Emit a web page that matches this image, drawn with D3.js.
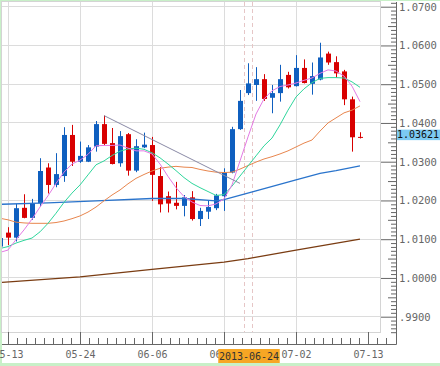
<!DOCTYPE html>
<html><head><meta charset="utf-8">
<script src="https://cdn.jsdelivr.net/npm/d3@7"></script>
<style>html,body{margin:0;padding:0;background:#c8f0c8;}svg{display:block}</style>
</head><body>
<svg id="c" width="440" height="366"></svg>
<script>
// ---- data ----
const dates = ['05-10','05-13','05-14','05-15','05-16','05-17','05-20','05-21','05-22','05-23','05-24',
 '05-27','05-28','05-29','05-30','05-31','06-03','06-04','06-05','06-06','06-07','06-10','06-11','06-12',
 '06-13','06-14','06-17','06-18','06-19','06-20','06-21','06-24','06-25','06-26','06-27','06-28','07-01',
 '07-02','07-03','07-04','07-05','07-08','07-09','07-10','07-11','07-12','07-13'];
const open  = [1.0081,1.0117,1.0104,1.0181,1.0155,1.0193,1.0285,1.0240,1.0263,1.0369,1.0300,1.0300,1.0339,1.0397,1.0348,1.0296,1.0371,1.0277,1.0337,1.0343,1.0263,1.0211,1.0194,1.0186,1.0208,1.0152,1.0171,1.0180,1.0211,1.0272,1.0384,1.0477,1.0498,1.0513,1.0465,1.0477,1.0524,1.0495,1.0542,1.0501,1.0512,1.0579,1.0557,1.0533,1.0461,1.0364];
const high  = [1.0108,1.0131,1.0191,1.0216,1.0204,1.0309,1.0296,1.0322,1.0389,1.0395,1.0352,1.0343,1.0405,1.0419,1.0387,1.0379,1.0374,1.0358,1.0375,1.0364,1.0286,1.0223,1.0248,1.0214,1.0224,1.0181,1.0199,1.0217,1.0283,1.0390,1.0485,1.0554,1.0544,1.0526,1.0498,1.0550,1.0532,1.0575,1.0564,1.0556,1.0607,1.0584,1.0572,1.0537,1.0468,1.0376];
const low   = [1.0075,1.0085,1.0094,1.0154,1.0150,1.0184,1.0218,1.0234,1.0248,1.0289,1.0297,1.0299,1.0326,1.0343,1.0293,1.0287,1.0264,1.0273,1.0335,1.0199,1.0169,1.0169,1.0177,1.0159,1.0148,1.0134,1.0152,1.0175,1.0173,1.0270,1.0382,1.0472,1.0457,1.0457,1.0425,1.0455,1.0489,1.0494,1.0502,1.0473,1.0510,1.0550,1.0517,1.0446,1.0326,1.0360];
const close = [1.0103,1.0104,1.0180,1.0155,1.0193,1.0276,1.0240,1.0268,1.0369,1.0300,1.0315,1.0337,1.0397,1.0346,1.0294,1.0366,1.0277,1.0340,1.0344,1.0266,1.0190,1.0192,1.0186,1.0208,1.0152,1.0173,1.0183,1.0213,1.0272,1.0384,1.0457,1.0502,1.0513,1.0462,1.0477,1.0513,1.0492,1.0542,1.0503,1.0521,1.0569,1.0556,1.0528,1.0461,1.0363,1.03621];
const ma5  = [1.0066,1.0072,1.0099,1.0124,1.0152,1.0183,1.0212,1.0244,1.0273,1.0294,1.0304,1.0319,1.0341,1.0342,1.0342,1.0343,1.0335,1.0328,1.0328,1.0320,1.0294,1.0262,1.0233,1.0210,1.0196,1.0187,1.0186,1.0191,1.0204,1.0240,1.0302,1.0364,1.0423,1.0462,1.0483,1.0494,1.0498,1.0503,1.0510,1.0516,1.0528,1.0537,1.0534,1.0521,1.0495,1.0455];
const ma10 = [1.0076,1.0081,1.0090,1.0097,1.0103,1.0119,1.0141,1.0167,1.0195,1.0219,1.0240,1.0266,1.0292,1.0302,1.0316,1.0327,1.0333,1.0335,1.0332,1.0323,1.0310,1.0294,1.0277,1.0259,1.0244,1.0233,1.0223,1.0213,1.0215,1.0237,1.0263,1.0289,1.0315,1.0341,1.0361,1.0395,1.0433,1.0467,1.0488,1.0504,1.0515,1.0517,1.0517,1.0516,1.0506,1.0492];
const ma25 = [1.0154,1.0150,1.0144,1.0142,1.0141,1.0141,1.0141,1.0143,1.0147,1.0153,1.0160,1.0170,1.0183,1.0199,1.0214,1.0227,1.0243,1.0257,1.0267,1.0276,1.0283,1.0286,1.0288,1.0286,1.0285,1.0280,1.0276,1.0273,1.0272,1.0273,1.0281,1.0290,1.0299,1.0307,1.0313,1.0320,1.0328,1.0338,1.0348,1.0356,1.0379,1.0400,1.0413,1.0426,1.0433,1.0444];
const ma75Dates = ['05-10','05-20','05-28','06-06','06-12','06-18','06-19','06-25','07-02','07-05','07-09','07-12'];
const ma75 = [1.0190,1.0194,1.0199,1.0205,1.0205,1.0199,1.0202,1.0225,1.0253,1.0270,1.0277,1.0289];
const ma200Dates = ['05-10','05-24','06-06','06-19','06-24','07-02','07-12'];
const ma200 = [0.9988,1.0003,1.0022,1.0041,1.0050,1.0072,1.0100];
const trendDates = ['05-29','06-21'];
const trendValues = [1.0419,1.0244];
const yTicks = [1.07,1.06,1.05,1.04,1.03,1.02,1.01,1.00,0.99];
const yTickLabels = ['1.0700','1.0600','1.0500','1.0400','1.0300','1.0200','1.0100','1.0000','.9900'];
const xTickDates = ['05-13','05-24','06-06','06-19','07-02','07-13'];
const cursorDate = '06-24', cursorLabel = '2013-06-24';
const lastPrice = 1.03621, lastLabel = '1.03621';

// ---- drawing ----
const FONT = '"DejaVu Sans Mono", monospace';
const svg = d3.select('#c');
const P = {l:2, t:2, r:380, b:332};
svg.append('rect').attr('x',2).attr('y',1).attr('width',438).attr('height',362).attr('fill','#fff');

const x = d3.scalePoint().domain(dates).range([0, 368]);
const xi = d3.scaleLinear().domain([0, dates.length-1]).range([0, 368]);
const y = d3.scaleLinear().domain([0.99, 1.07]).range([316.7, 6.7]);

svg.append('defs').append('clipPath').attr('id','clip')
  .append('rect').attr('x',P.l).attr('y',P.t).attr('width',P.r-P.l).attr('height',P.b-P.t);

// grid
const grid = svg.append('g').attr('stroke','#dcdcdc').attr('stroke-width',1);
grid.selectAll('line.h').data(yTicks).join('line').attr('class','h')
  .attr('x1',P.l).attr('x2',P.r).attr('y1',d=>Math.floor(y(d))+0.5).attr('y2',d=>Math.floor(y(d))+0.5);
grid.selectAll('line.v').data(xTickDates.slice(0,-1)).join('line').attr('class','v')
  .attr('x1',d=>x(d)+0.5).attr('x2',d=>x(d)+0.5).attr('y1',P.t).attr('y2',P.b);
svg.append('rect').attr('x',P.l-0.5).attr('y',P.t-0.5).attr('width',P.r-P.l+1).attr('height',P.b-P.t+1)
  .attr('fill','none').attr('stroke','#d4d4d4');

// cursor dashed lines
const cx = x(cursorDate), st = x.step();
svg.append('g').selectAll('line').data([cx-st/2, cx+st/2]).join('line')
  .attr('x1',d=>d+0.5).attr('x2',d=>d+0.5).attr('y1',P.t).attr('y2',P.b)
  .attr('stroke','#e6c6c6').attr('stroke-dasharray','4,3');

const plot = svg.append('g').attr('clip-path','url(#clip)');

// candles
const idx = d3.range(close.length);
const cg = plot.append('g');
cg.selectAll('line').data(idx).join('line')
  .attr('x1',i=>x(dates[i])+0.5).attr('x2',i=>x(dates[i])+0.5)
  .attr('y1',i=>y(high[i])).attr('y2',i=>y(low[i]))
  .attr('stroke',i=>close[i]>=open[i]?'#0f5fbf':'#d80000').attr('stroke-width',1);
cg.selectAll('rect').data(idx).join('rect')
  .attr('x',i=>x(dates[i])-2).attr('width',5)
  .attr('y',i=>Math.min(y(open[i]),y(close[i])))
  .attr('height',i=>Math.max(1,Math.abs(y(open[i])-y(close[i]))))
  .attr('fill',i=>close[i]>=open[i]?'#0f5fbf':'#d80000');

// lines
function drawLine(ds, vs, color, w){
  const line = d3.line().x((d,i)=>x(ds[i])).y(d=>y(d));
  plot.append('path').datum(vs).attr('d',line).attr('fill','none')
    .attr('stroke',color).attr('stroke-width',w);
}
drawLine(ma200Dates, ma200, '#7a3c12', 1.3);
drawLine(ma75Dates, ma75, '#2a74cc', 1.3);
drawLine(dates, ma25, '#e8864e', 1);
drawLine(dates, ma10, '#2fd69c', 1);
drawLine(dates, ma5, '#e47ae4', 1);
drawLine(trendDates, trendValues, '#8a8aa6', 1);

// axes
const axG = svg.append('g');
axG.append('line').attr('x1',P.l).attr('x2',396.5).attr('y1',344.5).attr('y2',344.5).attr('stroke','#666');
axG.append('line').attr('x1',396.5).attr('x2',396.5).attr('y1',P.t).attr('y2',344.5).attr('stroke','#666');

const yMinor = d3.range(986, 1072).filter(v=>v%10!==0).map(v=>v/1000);
const yMinorAx = svg.append('g').attr('transform','translate(396,0)')
  .call(d3.axisRight(y).tickValues(yMinor).tickSizeInner(-5).tickSizeOuter(0).tickFormat(''));
yMinorAx.select('.domain').remove();
yMinorAx.selectAll('line').attr('stroke','#666').attr('x2',(d)=>Math.round(d*1000)%5===0?-8:-5);

const yAx = svg.append('g').attr('transform','translate(396,0)')
  .call(d3.axisRight(y).tickValues(yTicks).tickSizeInner(-15).tickSizeOuter(0).tickPadding(3)
    .tickFormat((d,i)=>yTickLabels[i]));
yAx.select('.domain').remove();
yAx.selectAll('line').attr('stroke','#666');
yAx.selectAll('text').attr('font-family',FONT).attr('font-size','10.5px').attr('fill','#666');

const majIdx = xTickDates.map(d=>dates.indexOf(d));
const xMinor = [];
for (let k=0;k<majIdx.length-1;k++){
  const a=majIdx[k], b=majIdx[k+1];
  for (let j=1;j<8;j++) xMinor.push(a+(b-a)*j/8);
}
const span = (majIdx[1]-majIdx[0])/8;
xMinor.push(majIdx[majIdx.length-1]+span, majIdx[majIdx.length-1]+2*span);
const xMinorAx = svg.append('g').attr('transform','translate(0,344)')
  .call(d3.axisBottom(xi).tickValues(xMinor).tickSizeInner(-6).tickSizeOuter(0).tickFormat(''));
xMinorAx.select('.domain').remove();
xMinorAx.selectAll('line').attr('stroke','#666');

const xAx = svg.append('g').attr('transform','translate(0,344)')
  .call(d3.axisBottom(x).tickValues(xTickDates).tickSizeInner(-12).tickSizeOuter(0).tickPadding(7));
xAx.select('.domain').remove();
xAx.selectAll('line').attr('stroke','#666');
xAx.selectAll('text').attr('font-family',FONT).attr('font-size','10px').attr('fill','#666');

// cursor date label
svg.append('rect').attr('x',cx+1-30.75).attr('y',349).attr('width',61.5).attr('height',14).attr('fill','#f6a624');
svg.append('text').attr('x',cx+1).attr('y',359.5).attr('text-anchor','middle')
  .attr('font-family',FONT).attr('font-size','10px').attr('fill','#333').text(cursorLabel);

// last price label
const ly = y(lastPrice);
svg.append('rect').attr('x',397).attr('y',ly-8).attr('width',43).attr('height',10.5).attr('fill','#7ccaf2');
svg.append('text').attr('x',397).attr('y',ly+0.8).attr('font-family',FONT).attr('font-size','10px')
  .attr('fill','#111').text(lastLabel);
</script>
</body></html>
